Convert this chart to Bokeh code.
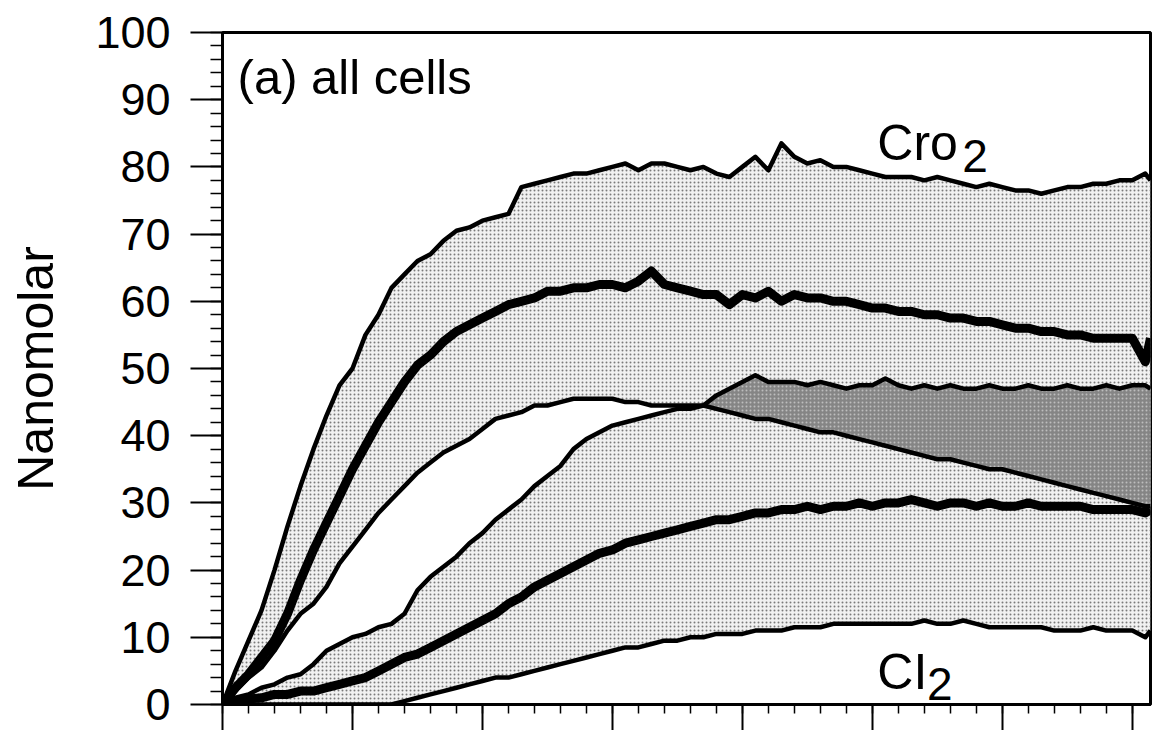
from bokeh.plotting import figure
from bokeh.models import Range1d, SingleIntervalTicker, Label, CustomJSTickFormatter
from bokeh.embed import file_html
from bokeh.resources import INLINE

# time grid (arbitrary units: 5 per major tick)
t = [0, 0.5, 1, 1.5, 2, 2.5, 3, 3.5, 4, 4.5,
     5, 5.5, 6, 6.5, 7, 7.5, 8, 8.5, 9, 9.5,
     10, 10.5, 11, 11.5, 12, 12.5, 13, 13.5, 14, 14.5,
     15, 15.5, 16, 16.5, 17, 17.5, 18, 18.5, 19, 19.5,
     20, 20.5, 21, 21.5, 22, 22.5, 23, 23.5, 24, 24.5,
     25, 25.5, 26, 26.5, 27, 27.5, 28, 28.5, 29, 29.5,
     30, 30.5, 31, 31.5, 32, 32.5, 33, 33.5, 34, 34.5,
     35, 35.5, 35.7]

cro_hi = [0, 5, 9.5, 14, 20, 26.5, 32.5, 38, 43, 47.5,
          50, 55, 58, 62, 64, 66, 67, 69, 70.5, 71,
          72, 72.5, 73, 77, 77.5, 78, 78.5, 79, 79, 79.5,
          80, 80.5, 79.5, 80.5, 80.5, 80, 79.5, 80, 79, 78.5,
          80, 81.5, 79.5, 83.5, 81.5, 80.5, 81, 80, 80, 79.5,
          79, 78.5, 78.5, 78.5, 78, 78.5, 78, 77.5, 77, 77.5,
          77, 76.5, 76.5, 76, 76.5, 77, 77, 77.5, 77.5, 78,
          78, 79, 78]

cro_mu = [0, 2.5, 4.5, 7, 9.5, 13.5, 18.5, 23, 27, 31,
          35, 38.5, 42, 45, 48, 50.5, 52, 54, 55.5, 56.5,
          57.5, 58.5, 59.5, 60, 60.5, 61.5, 61.5, 62, 62, 62.5,
          62.5, 62, 63, 64.5, 62.5, 62, 61.5, 61, 61, 59.5,
          61, 60.5, 61.5, 60, 61, 60.5, 60.5, 60, 60, 59.5,
          59, 59, 58.5, 58.5, 58, 58, 57.5, 57.5, 57, 57,
          56.5, 56, 56, 55.5, 55.5, 55, 55, 54.5, 54.5, 54.5,
          54.5, 51, 54.5]

cro_lo = [0, 2, 4, 5.5, 8, 11, 13.5, 15, 17.5, 21,
          23.5, 26, 28.5, 30.5, 32.5, 34.5, 36, 37.5, 38.5, 39.5,
          41, 42.5, 43, 43.5, 44.5, 44.5, 45, 45.5, 45.5, 45.5,
          45.5, 45, 45, 44.5, 44.5, 44.5, 44.5, 44.5, 44, 43.5,
          43, 42.5, 42.5, 42, 41.5, 41, 40.5, 40.5, 40, 39.5,
          39, 38.5, 38, 37.5, 37, 36.5, 36.5, 36, 35.5, 35,
          35, 34.5, 34, 33.5, 33, 32.5, 32, 31.5, 31, 30.5,
          30, 29.5, 29.5]

ci_hi = [0, 1, 1.5, 2.5, 3, 4, 4.5, 6, 8, 9,
         10, 10.5, 11.5, 12, 13.5, 17, 19, 20.5, 22, 24,
         25.5, 27.5, 29, 30.5, 32.5, 34, 35.5, 38, 39.5, 40.5,
         41.5, 42, 42.5, 43, 43.5, 44, 44, 44.5, 46, 47,
         48, 49, 48, 48, 48, 47.5, 48, 47.5, 47, 47.5,
         47.5, 48.5, 47.5, 47, 47.5, 47, 47.5, 47, 47, 47.5,
         47, 47, 47.5, 47, 47, 47.5, 47, 47, 47.5, 47,
         47.5, 47.5, 47]

ci_mu = [0, 0.5, 0.8, 1, 1.5, 1.5, 2, 2, 2.5, 3,
         3.5, 4, 5, 6, 7, 7.5, 8.5, 9.5, 10.5, 11.5,
         12.5, 13.5, 15, 16, 17.5, 18.5, 19.5, 20.5, 21.5, 22.5,
         23, 24, 24.5, 25, 25.5, 26, 26.5, 27, 27.5, 27.5,
         28, 28.5, 28.5, 29, 29, 29.5, 29, 29.5, 29.5, 30,
         29.5, 30, 30, 30.5, 30, 29.5, 30, 30, 29.5, 30,
         29.5, 29.5, 30, 29.5, 29.5, 29.5, 29.5, 29, 29, 29,
         29, 28.5, 29]

ci_lo = [0, 0, 0, 0, 0, 0, 0, 0, 0, 0,
         0, 0, 0, 0, 0.5, 1, 1.5, 2, 2.5, 3,
         3.5, 4, 4, 4.5, 5, 5.5, 6, 6.5, 7, 7.5,
         8, 8.5, 8.5, 9, 9.5, 9.5, 10, 10, 10.5, 10.5,
         10.5, 11, 11, 11, 11.5, 11.5, 11.5, 12, 12, 12,
         12, 12, 12, 12, 12.5, 12, 12, 12.5, 12, 11.5,
         11.5, 11.5, 11.5, 11.5, 11, 11, 11, 11.5, 11, 11,
         11, 10, 11]

for s in (cro_hi, cro_mu, cro_lo, ci_hi, ci_mu, ci_lo):
    assert len(s) == len(t)

FONT = "Liberation Sans"
LIGHT = "#f1f1f1"
DOT = "#7a7a7a"
DARK = "#858585"

p = figure(width=1154, height=730, output_backend="svg", toolbar_location=None,
           x_range=Range1d(0, 35.7), y_range=Range1d(0, 100),
           min_border_left=222, min_border_right=4, min_border_top=32,
           min_border_bottom=26)
p.grid.visible = False
p.outline_line_color = "black"
p.outline_line_width = 3
p.background_fill_color = "white"
p.border_fill_color = "white"

# bands (stippled look)
band = dict(fill_color=LIGHT, hatch_pattern="dot", hatch_color=DOT,
            hatch_scale=4, hatch_weight=1)
p.varea(x=t, y1=cro_lo, y2=cro_hi, **band)
p.varea(x=t, y1=ci_lo, y2=ci_hi, **band)
overlap_top = [max(a, b) for a, b in zip(cro_lo, ci_hi)]
p.varea(x=t, y1=cro_lo, y2=overlap_top, fill_color=DARK,
        hatch_pattern="dot", hatch_color="#bdbdbd", hatch_scale=4, hatch_weight=1)

# lines
for ys, w in ((cro_hi, 4.5), (cro_lo, 4.5), (ci_hi, 4.5), (ci_lo, 4.5),
              (cro_mu, 9), (ci_mu, 9)):
    p.line(t, ys, line_color="black", line_width=w, line_join="round")

# axes
ya = p.yaxis[0]
ya.ticker = SingleIntervalTicker(interval=10, num_minor_ticks=5)
ya.axis_line_width = 3
ya.major_tick_out = 32
ya.major_tick_in = 0
ya.minor_tick_out = 12
ya.minor_tick_in = 0
ya.major_tick_line_width = 2
ya.minor_tick_line_width = 1.5
ya.major_label_text_font = FONT
ya.major_label_text_font_size = "45px"
ya.major_label_text_color = "black"
ya.major_label_standoff = 20
ya.axis_label = "Nanomolar"
ya.axis_label_text_font = FONT
ya.axis_label_text_font_size = "50px"
ya.axis_label_text_font_style = "normal"
ya.axis_label_text_color = "black"
ya.axis_label_standoff = 28

xa = p.xaxis[0]
xa.ticker = SingleIntervalTicker(interval=5, num_minor_ticks=5)
xa.axis_line_width = 3
xa.major_tick_out = 26
xa.major_tick_in = 0
xa.minor_tick_out = 9
xa.minor_tick_in = 0
xa.major_tick_line_width = 2
xa.minor_tick_line_width = 1.5
xa.formatter = CustomJSTickFormatter(code="return ''")
xa.major_label_text_font_size = "0px"
xa.major_label_standoff = 0

# annotations
p.add_layout(Label(x=0.58, y=93.4, text="(a) all cells", text_font=FONT,
                   text_font_size="49px", text_baseline="alphabetic",
                   text_color="black"))
p.add_layout(Label(x=25.19, y=83.5, text="Cro", text_font=FONT,
                   text_font_size="50px", text_baseline="alphabetic",
                   text_color="black"))
p.add_layout(Label(x=28.46, y=81.6, text="2", text_font=FONT,
                   text_font_size="46px", text_baseline="alphabetic",
                   text_color="black"))
p.add_layout(Label(x=25.19, y=4.9, text="CI", text_font=FONT,
                   text_font_size="50px", text_baseline="alphabetic",
                   text_color="black"))
p.add_layout(Label(x=27.1, y=3.0, text="2", text_font=FONT,
                   text_font_size="46px", text_baseline="alphabetic",
                   text_color="black"))

open("out.html", "w").write(file_html(p, INLINE))
